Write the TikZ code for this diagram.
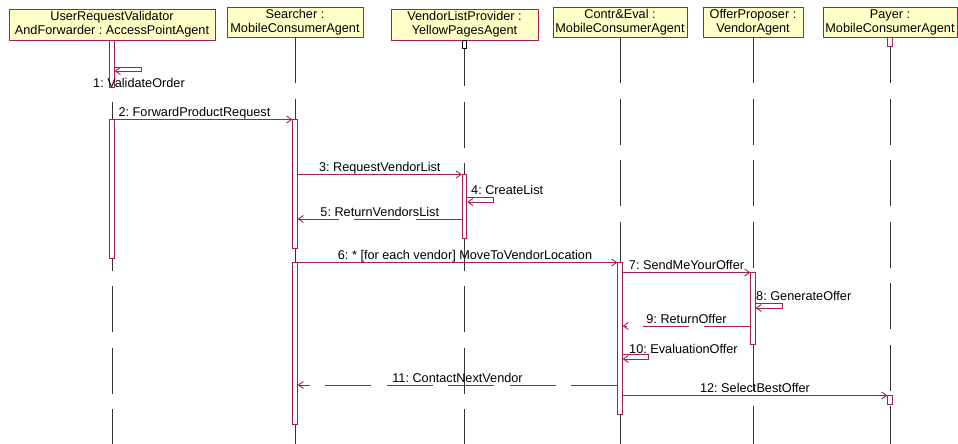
\documentclass[tikz,border=0pt]{standalone}
\usepackage{fontspec}
\setmainfont{Liberation Sans}
\usetikzlibrary{arrows.meta, positioning}
\definecolor{umlred}{RGB}{168,30,84}
\definecolor{umlfill}{RGB}{255,255,200}
\frenchspacing
\tikzset {
    x=1pt, y=-1pt,
    >={Straight Barb[length=5pt,width=7pt]},
    every node/.style={font=\fontsize{12.7}{14}\selectfont},
    agent/.style={draw=umlred, fill=umlfill, line width=0.9pt, align=center, inner sep=0pt, minimum height=30pt},
    bar/.style={draw=umlred, fill=white, line width=0.8pt, inner sep=0pt, minimum width=4.5pt, anchor=north},
    msg/.style={->, draw=umlred, line width=0.9pt},
    reply/.style={msg, dash pattern=on 46pt off 15.5pt},
    life/.style={draw=black!80, line width=0.8pt, dash pattern=on 46pt off 15.5pt},
    lbl/.style={inner sep=0pt, anchor=base}
}
\begin{document}
\begin{tikzpicture}
                    \useasboundingbox (0,0) rectangle (958,444);

                    \node[agent, minimum width=206pt, minimum height=31pt] (ur) at (112,24.5) {UserRequestValidator\\AndForwarder : AccessPointAgent};
                    \node[agent, minimum width=136pt] (se) at (295,22) {Searcher :\\MobileConsumerAgent};
                    \node[agent, minimum width=147pt, minimum height=31pt] (vl) at (464.5,24.5) {VendorListProvider :\\YellowPagesAgent};
                    \node[agent, minimum width=134pt] (ce) at (620,22) {Contr\&Eval :\\MobileConsumerAgent};
                    \node[agent, minimum width=100pt] (op) at (753,22) {OfferProposer :\\VendorAgent};
                    \node[agent, minimum width=134pt] (pa) at (890,22) {Payer :\\MobileConsumerAgent};

                    \foreach \n in {ur, se, vl, ce, op, pa}
                        \draw[life] (\n.south) -- (\n.south |- 0,444);

                    \node[bar, minimum height=47pt, below=0pt of ur] (ur1) {};
                    \node[bar, minimum height=139pt, below=79pt of ur] (ur2) {};
                    \node[bar, minimum height=129pt, below=82pt of se] (se1) {};
                    \node[bar, minimum height=162pt, below=225pt of se] (se2) {};
                    \node[bar, draw=black, minimum height=8pt, below=0pt of vl] (vl0) {};
                    \node[bar, minimum height=64pt, below=134pt of vl] (vl1) {};
                    \node[bar, minimum height=152pt, below=225pt of ce] (ce1) {};
                    \node[bar, minimum height=72pt, below=235pt of op] (op1) {};
                    \node[bar, minimum height=9pt, below=0pt of pa] (pa0) {};
                    \node[bar, minimum height=9pt, below=358pt of pa] (pa1) {};

                    \draw[msg] (ur1.east |- 0,67) -- ++(27,0) -- ++(0,4) -- (ur1.east |- 0,71);
                    \node[lbl, anchor=base west] (l1) at (93,87) {1: ValidateOrder};
                    \draw[msg] (ur2.north east) -- node[lbl, yshift=3pt, xshift=-9pt] (l2) {2: ForwardProductRequest} (se1.north west);
                    \draw[msg] (se1.east |- vl1.north) -- node[lbl, yshift=3pt] (l3) {3: RequestVendorList} (vl1.north west);
                    \draw[msg] (vl1.east |- 0,197) -- ++(26,0) -- ++(0,5) -- (vl1.east |- 0,202);
                    \node[lbl, anchor=base west] (l4) at (471,194) {4: CreateList};
                    \draw[reply] (vl1.west |- 0,219) -- node[lbl, yshift=3pt] (l5) {5: ReturnVendorsList} (se1.east |- 0,219);
                    \draw[msg] (se2.north east) -- node[lbl, yshift=3pt, xshift=7.5pt] (l6) {6: * [for each vendor] MoveToVendorLocation} (ce1.north west);
                    \draw[msg] (ce1.east |- op1.north) -- node[lbl, yshift=3pt] (l7) {7: SendMeYourOffer} (op1.north west);
                    \draw[msg] (op1.east |- 0,303) -- ++(27,0) -- ++(0,5) -- (op1.east |- 0,308);
                    \node[lbl, anchor=base west] (l8) at (756,300) {8: GenerateOffer};
                    \draw[reply] (op1.west |- 0,326) -- node[lbl, yshift=3pt] (l9) {9: ReturnOffer} (ce1.east |- 0,326);
                    \draw[msg] (ce1.east |- 0,354) -- ++(26,0) -- ++(0,5) -- (ce1.east |- 0,359);
                    \node[lbl, anchor=base west] (l10) at (629,353) {10: EvaluationOffer};
                    \draw[reply] (ce1.west |- 0,385) -- node[lbl, yshift=3pt] (l11) {11: ContactNextVendor} (se2.east |- 0,385);
                    \draw[msg] (ce1.east |- pa1.north) -- node[lbl, yshift=3pt] (l12) {12: SelectBestOffer} (pa1.north west);
\end{tikzpicture}
\end{document}
